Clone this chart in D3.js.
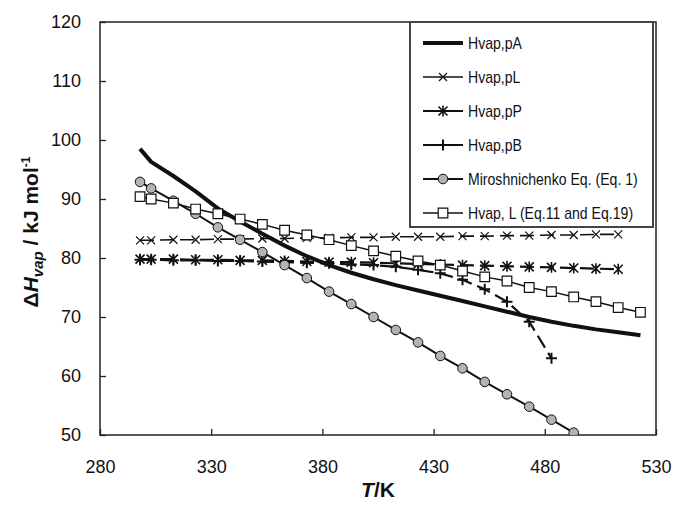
<!DOCTYPE html>
<html>
<head>
<meta charset="utf-8">
<script src="https://cdn.jsdelivr.net/npm/d3@7"></script>
<style>
  body { margin: 0; background: #fff; }
  svg { display: block; font-family: "Liberation Sans", Arial, sans-serif; }
</style>
</head>
<body>
<script>
const width = 673;
const height = 508;

// temperatures (K) shared by all series, series are read left to right
const temps = [298, 303, 313, 323, 333, 343, 353, 363, 373, 383, 393, 403, 413, 423, 433, 443, 453, 463, 473, 483, 493, 503, 513, 523];
const hvapPA = [98.5, 96.3, 93.9, 91.3, 88.4, 86.2, 84.1, 82.1, 80.3, 78.8, 77.5, 76.4, 75.4, 74.5, 73.6, 72.7, 71.8, 70.9, 70.0, 69.2, 68.5, 67.9, 67.4, 66.9];
const hvapPL = [83.0, 83.0, 83.1, 83.1, 83.2, 83.2, 83.3, 83.3, 83.4, 83.4, 83.5, 83.5, 83.6, 83.6, 83.6, 83.7, 83.7, 83.8, 83.8, 83.9, 83.9, 84.0, 84.0];
const hvapPP = [79.8, 79.8, 79.8, 79.7, 79.7, 79.6, 79.6, 79.5, 79.4, 79.3, 79.3, 79.2, 79.1, 79.0, 78.9, 78.8, 78.7, 78.6, 78.5, 78.4, 78.3, 78.2, 78.1];
const hvapPB = [79.7, 79.7, 79.6, 79.6, 79.5, 79.5, 79.4, 79.3, 79.2, 79.1, 78.9, 78.8, 78.5, 78.0, 77.4, 76.3, 74.7, 72.6, 69.2, 63.0];
const miroshnichenko = [92.9, 91.8, 89.7, 87.5, 85.2, 83.1, 81.0, 78.8, 76.6, 74.3, 72.2, 70.0, 67.8, 65.7, 63.4, 61.3, 59.0, 56.9, 54.8, 52.6, 50.4, 48.2];
const hvapL = [90.4, 90.0, 89.3, 88.3, 87.5, 86.6, 85.7, 84.7, 83.9, 83.1, 82.1, 81.2, 80.3, 79.5, 78.8, 77.8, 76.8, 76.1, 75.0, 74.3, 73.4, 72.6, 71.6, 70.8];

const xTicks = [280, 330, 380, 430, 480, 530];
const yTicks = [50, 60, 70, 80, 90, 100, 110, 120];
const legendNames = ['Hvap,pA', 'Hvap,pL', 'Hvap,pP', 'Hvap,pB', 'Miroshnichenko Eq. (Eq. 1)', 'Hvap, L (Eq.11 and Eq.19)'];

const plot = { left: 100, right: 656, top: 22, bottom: 435 };

const x = d3.scaleLinear().domain([280, 530]).range([plot.left, plot.right]);
const y = d3.scaleLinear().domain([50, 120]).range([plot.bottom, plot.top]);

// marker shapes
const markPath = {
  none: () => '',
  times: r => `M${-r},${-r}L${r},${r}M${-r},${r}L${r},${-r}`,
  plus: r => `M${-r},0H${r}M0,${-r}V${r}`,
  star: r => `M${-r},${-r}L${r},${r}M${-r},${r}L${r},${-r}M0,${-r * 1.2}V${r * 1.2}`,
  circle: r => d3.arc()({ innerRadius: 0, outerRadius: r, startAngle: 0, endAngle: 2 * Math.PI }),
  square: r => `M${-r},${-r}H${r}V${r}H${-r}Z`,
};

const series = [
  { name: legendNames[0], values: hvapPA, width: 4, dash: null, mark: 'none' },
  { name: legendNames[1], values: hvapPL, width: 1.6, dash: '14,6', mark: 'times', r: 4, mw: 1.2, fill: 'none' },
  { name: legendNames[2], values: hvapPP, width: 2.2, dash: '14,6', mark: 'star', r: 4.5, mw: 1.6, fill: 'none' },
  { name: legendNames[3], values: hvapPB, width: 2.2, dash: '14,6', mark: 'plus', r: 5.5, mw: 2, fill: 'none' },
  { name: legendNames[4], values: miroshnichenko, width: 2, dash: null, mark: 'circle', r: 4.8, mw: 1, fill: '#b3b3b3' },
  { name: legendNames[5], values: hvapL, width: 1.5, dash: null, mark: 'square', r: 4.8, mw: 1.2, fill: '#fff' },
];

const svg = d3.select('body').append('svg')
  .attr('width', width)
  .attr('height', height);

svg.append('clipPath').attr('id', 'clip')
  .append('rect')
  .attr('x', plot.left).attr('y', plot.top)
  .attr('width', plot.right - plot.left).attr('height', plot.bottom - plot.top);

// axes
const xAxis = svg.append('g')
  .attr('transform', `translate(0,${plot.bottom})`)
  .call(d3.axisBottom(x).tickValues(xTicks).tickSizeInner(-6).tickSizeOuter(0).tickPadding(25));
const yAxis = svg.append('g')
  .attr('transform', `translate(${plot.left},0)`)
  .call(d3.axisLeft(y).tickValues(yTicks).tickSizeInner(-6).tickSizeOuter(0).tickPadding(19));
[xAxis, yAxis].forEach(g => {
  g.select('.domain').remove();
  g.selectAll('line').attr('stroke', '#222').attr('stroke-width', 1.3);
  g.selectAll('text').attr('font-size', 18).attr('fill', '#111')
    .attr('font-family', '"Liberation Sans", Arial, sans-serif');
});

svg.append('rect')
  .attr('x', plot.left).attr('y', plot.top)
  .attr('width', plot.right - plot.left).attr('height', plot.bottom - plot.top)
  .attr('fill', 'none').attr('stroke', '#222').attr('stroke-width', 1.5);

// series
const line = d3.line()
  .x((d, i) => x(temps[i]))
  .y(d => y(d));

const marks = svg.append('g').attr('clip-path', 'url(#clip)');
series.forEach(s => {
  marks.append('path')
    .datum(s.values)
    .attr('d', line)
    .attr('fill', 'none')
    .attr('stroke', '#111')
    .attr('stroke-width', s.width)
    .attr('stroke-linejoin', 'round')
    .attr('stroke-dasharray', s.dash);
  if (s.mark !== 'none') {
    marks.selectAll(null)
      .data(s.values)
      .join('path')
        .attr('transform', (d, i) => `translate(${x(temps[i])},${y(d)})`)
        .attr('d', markPath[s.mark](s.r))
        .attr('fill', s.fill)
        .attr('stroke', '#111')
        .attr('stroke-width', s.mw);
  }
});

// legend
const legend = svg.append('g');
legend.append('rect')
  .attr('x', 410).attr('y', 22)
  .attr('width', 243).attr('height', 205)
  .attr('fill', '#fff').attr('stroke', '#444').attr('stroke-width', 2);
series.forEach((s, i) => {
  const ly = 43 + i * 34;
  const g = legend.append('g').attr('transform', `translate(0,${ly})`);
  g.append('line')
    .attr('x1', 423).attr('x2', 463)
    .attr('stroke', '#111').attr('stroke-width', s.width);
  if (s.mark !== 'none') {
    g.append('path')
      .attr('transform', 'translate(443,0)')
      .attr('d', markPath[s.mark](s.r))
      .attr('fill', s.fill).attr('stroke', '#111').attr('stroke-width', s.mw);
  }
  // the legend font is condensed, so squeeze it horizontally
  g.append('text')
    .attr('transform', 'translate(468,0) scale(0.88,1)')
    .attr('dy', '0.35em')
    .attr('font-size', 16)
    .attr('fill', '#111')
    .text(s.name);
});

// axis titles
const xt = svg.append('text')
  .attr('x', (plot.left + plot.right) / 2).attr('y', 497)
  .attr('text-anchor', 'middle')
  .attr('font-size', 21).attr('font-weight', 'bold').attr('fill', '#111');
xt.append('tspan').attr('font-style', 'italic').text('T');
xt.append('tspan').text('/K');

const yt = svg.append('text')
  .attr('transform', `translate(38,232) rotate(-90)`)
  .attr('text-anchor', 'middle')
  .attr('font-size', 21).attr('font-weight', 'bold').attr('fill', '#111');
yt.append('tspan').text('Δ');
yt.append('tspan').attr('font-style', 'italic').text('H');
yt.append('tspan').attr('font-style', 'italic').attr('font-size', 15).attr('dy', 5).text('vap');
yt.append('tspan').attr('dy', -5).text(' / kJ mol');
yt.append('tspan').attr('font-size', 12).attr('dy', -8).text('-1');
</script>
</body>
</html>
